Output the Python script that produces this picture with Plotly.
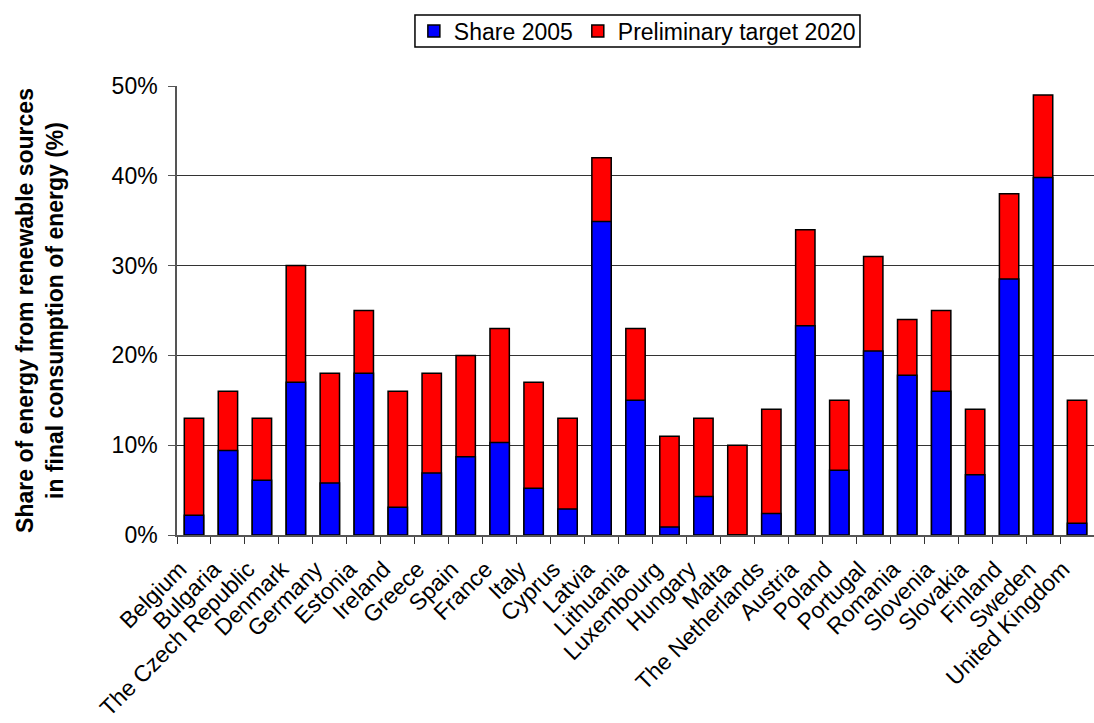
import plotly.graph_objects as go

countries = ["Belgium", "Bulgaria", "The Czech Republic", "Denmark", "Germany", "Estonia",
             "Ireland", "Greece", "Spain", "France", "Italy", "Cyprus", "Latvia", "Lithuania",
             "Luxembourg", "Hungary", "Malta", "The Netherlands", "Austria", "Poland",
             "Portugal", "Romania", "Slovenia", "Slovakia", "Finland", "Sweden", "United Kingdom"]
share_2005 = [2.2, 9.4, 6.1, 17.0, 5.8, 18.0, 3.1, 6.9, 8.7, 10.3, 5.2, 2.9, 34.9, 15.0,
              0.9, 4.3, 0.0, 2.4, 23.3, 7.2, 20.5, 17.8, 16.0, 6.7, 28.5, 39.8, 1.3]
target_2020 = [13, 16, 13, 30, 18, 25, 16, 18, 20, 23, 17, 13, 42, 23,
               11, 13, 10, 14, 34, 15, 31, 24, 25, 14, 38, 49, 15]
y_ticks = [0, 10, 20, 30, 40, 50]
y_tick_labels = ["0%", "10%", "20%", "30%", "40%", "50%"]

FONT = "Liberation Sans, Arial, sans-serif"

fig = go.Figure()
fig.add_trace(go.Bar(
    x=countries, y=target_2020, name="Preliminary target 2020",
    marker=dict(color="#FF0000", line=dict(color="black", width=1.5)),
    width=0.57, legendrank=2,
))
fig.add_trace(go.Bar(
    x=countries, y=share_2005, name="Share 2005",
    marker=dict(color="#0000FF", line=dict(color="black", width=1.5)),
    width=0.57, legendrank=1,
))

# legend frame (paper coordinates relative to the plot area)
fig.add_shape(type="rect", xref="paper", yref="paper",
              x0=0.2595, x1=0.7448, y0=1.0869, y1=1.158,
              line=dict(color="black", width=1.5), fillcolor="white", layer="below")

fig.update_layout(
    barmode="overlay",
    width=1094, height=723,
    margin=dict(l=177, r=0, t=86, b=188, autoexpand=False),
    paper_bgcolor="white", plot_bgcolor="white",
    font=dict(family=FONT, size=23, color="black"),
    showlegend=True,
    legend=dict(
        orientation="h", x=0.5826, xref="container", xanchor="center",
        y=0.957, yref="container", yanchor="middle",
        borderwidth=0, bgcolor="rgba(0,0,0,0)",
        font=dict(family=FONT, size=23, color="black"),
        itemwidth=30, tracegroupgap=0,
    ),
    xaxis=dict(
        tickangle=-45, tickfont=dict(family=FONT, size=23, color="black"),
        showgrid=False, showline=True, linecolor="#555555", linewidth=1.5,
        ticks="outside", tickson="boundaries", ticklen=7, tickcolor="#333333",
        range=[-0.5, 26.5], automargin=False,
        ticklabelshift=-14, ticklabelstandoff=10,
    ),
    yaxis=dict(
        range=[0, 50], tickvals=y_ticks, ticktext=y_tick_labels,
        tickfont=dict(family=FONT, size=23, color="black"),
        showgrid=True, gridcolor="#333333", gridwidth=1,
        showline=True, linecolor="#555555", linewidth=1.5,
        ticks="outside", ticklen=7, tickcolor="#555555",
        ticklabelstandoff=6,
        title=dict(
            text="<b>Share of energy from renewable sources<br>in final consumption of energy (%)</b>",
            font=dict(family=FONT, size=23, color="black"), standoff=42,
        ),
        zeroline=False, automargin=False,
    ),
)

fig.write_html("out.html")
